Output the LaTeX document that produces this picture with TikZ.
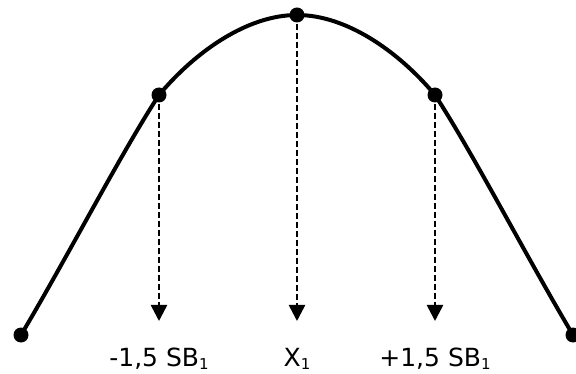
\documentclass[tikz,border=0pt]{standalone}
\usepackage{fontspec}
\setmainfont{DejaVu Sans}
\usetikzlibrary{arrows.meta}
\newcommand{\subone}{\raisebox{-3pt}{\fontsize{15}{15}\selectfont 1}}
\tikzset{
  dotnode/.style={circle, fill=black, inner sep=0pt, minimum size=15pt},
  curveline/.style={line width=4pt},
  dasharrow/.style={line width=2.6pt, dash pattern=on 6pt off 3pt, -{Triangle[length=16pt,width=16pt]}},
  lbl/.style={anchor=base, inner sep=0pt, font=\fontsize{25}{30}\selectfont}
}
\begin{document}
\begin{tikzpicture}[x=1pt,y=-1pt]
\useasboundingbox (0,0) rectangle (576,374);
\node[dotnode] (E1) at (21,335) {};
\node[dotnode] (E2) at (573,335) {};
\node[dotnode] (L) at (159,95) {};
\node[dotnode] (T) at (297,15) {};
\node[dotnode] (R) at (435,95) {};
\draw[curveline] (E1.center) .. controls (68,256) and (120,155) .. (L.center)
  .. controls (195,52) and (247,15) .. (T.center)
  .. controls (347,15) and (399,52) .. (R.center)
  .. controls (474,155) and (526,256) .. (E2.center);
\coordinate (aL) at (159,321);
\coordinate (aT) at (297,321);
\coordinate (aR) at (435,321);
\draw[dasharrow] (L.center) -- (aL);
\draw[dasharrow] (T.center) -- (aT);
\draw[dasharrow] (R.center) -- (aR);
\node[lbl] (tL) at (159,366) {-1,5 SB\subone};
\node[lbl] (tT) at (297,366) {X\subone};
\node[lbl] (tR) at (435,366) {+1,5 SB\subone};
\end{tikzpicture}
\end{document}
